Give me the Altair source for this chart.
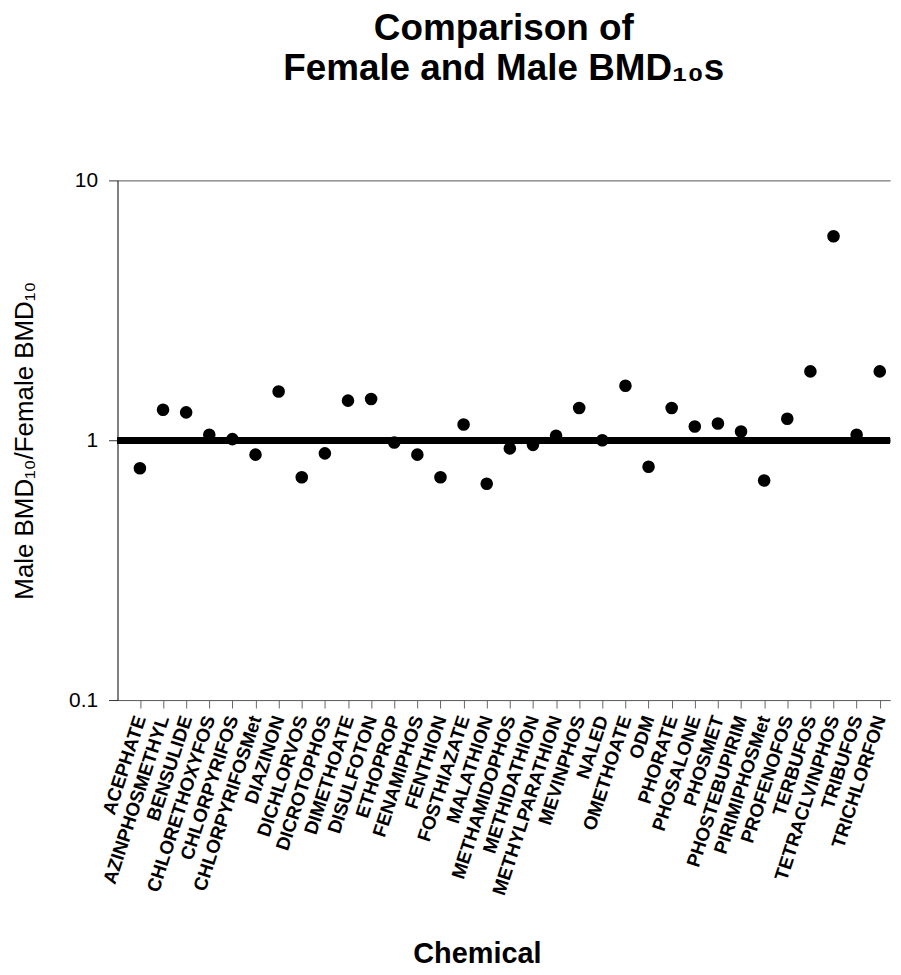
import altair as alt
import pandas as pd

chemicals = [
    "ACEPHATE", "AZINPHOSMETHYL", "BENSULIDE", "CHLORETHOXYFOS", "CHLORPYRIFOS",
    "CHLORPYRIFOSMet", "DIAZINON", "DICHLORVOS", "DICROTOPHOS", "DIMETHOATE",
    "DISULFOTON", "ETHOPROP", "FENAMIPHOS", "FENTHION", "FOSTHIAZATE", "MALATHION",
    "METHAMIDOPHOS", "METHIDATHION", "METHYLPARATHION", "MEVINPHOS", "NALED",
    "OMETHOATE", "ODM", "PHORATE", "PHOSALONE", "PHOSMET", "PHOSTEBUPIRIM",
    "PIRIMIPHOSMet", "PROFENOFOS", "TERBUFOS", "TETRACLVINPHOS", "TRIBUFOS",
    "TRICHLORFON",
]
ratios = [
    0.78, 1.31, 1.28, 1.05, 1.01, 0.88, 1.54, 0.72, 0.89, 1.42, 1.44,
    0.98, 0.88, 0.72, 1.15, 0.68, 0.93, 0.96, 1.04, 1.33, 1.00, 1.62,
    0.79, 1.33, 1.13, 1.16, 1.08, 0.70, 1.21, 1.84, 6.10, 1.05, 1.84,
]
y_ticks = [0.1, 1, 10]
reference_value = 1

df = pd.DataFrame({"chemical": chemicals, "ratio": ratios})

FONT = "Liberation Sans"

x_enc = alt.X(
    "chemical:N",
    sort=chemicals,
    scale=alt.Scale(type="point", padding=0.7065, align=0.686),
    axis=alt.Axis(
        title="Chemical",
        titleFont=FONT,
        titleFontSize=29,
        titleFontWeight="bold",
        titleColor="black",
        titleX=361,
        titleY=264,
        titleBaseline="alphabetic",
        titleAlign="center",
        labelAngle=-72,
        labelFont=FONT,
        labelFontSize=19,
        labelFontWeight="bold",
        labelColor="black",
        labelPadding=8,
        labelLimit=400,
        labelOverlap=False,
        tickSize=8,
        tickColor="#666666",
        domainColor="#666666",
        grid=False,
    ),
)

y_enc = alt.Y(
    "ratio:Q",
    scale=alt.Scale(type="log", domain=[0.1, 10], nice=False),
    axis=alt.Axis(
        values=y_ticks,
        format="~g",
        title="Male BMD₁₀/Female BMD₁₀",
        titleFont=FONT,
        titleFontSize=26,
        titleFontWeight="normal",
        titleColor="black",
        titleAngle=-90,
        titleX=-85,
        titleY=261,
        titleBaseline="alphabetic",
        titleAlign="center",
        labelFont=FONT,
        labelFontSize=21,
        labelColor="black",
        labelPadding=11,
        labelFlush=False,
        tickSize=9,
        tickColor="#333333",
        domainColor="black",
        grid=True,
        gridColor="#555555",
        gridWidth=1,
    ),
)

points = alt.Chart(df).mark_circle(size=160, color="black", opacity=1).encode(
    x=x_enc, y=y_enc
)

rule = alt.Chart(df).mark_rule(color="black", strokeWidth=6).encode(
    y=alt.datum(reference_value)
)

chart = (
    alt.layer(rule, points)
    .properties(
        width=776,
        height=522,
        background="white",
        title=alt.TitleParams(
            text=["Comparison of", "Female and Male BMD₁₀s"],
            font=FONT,
            fontSize=37,
            fontWeight="bold",
            lineHeight=40,
            color="black",
            anchor="middle",
            offset=82,
        ),
        padding={"left": 3, "top": 0, "right": 0, "bottom": 0},
    )
    .configure_view(stroke="transparent", strokeWidth=0)
)

chart.save("out.html", embed_options={"renderer": "svg", "actions": False})
